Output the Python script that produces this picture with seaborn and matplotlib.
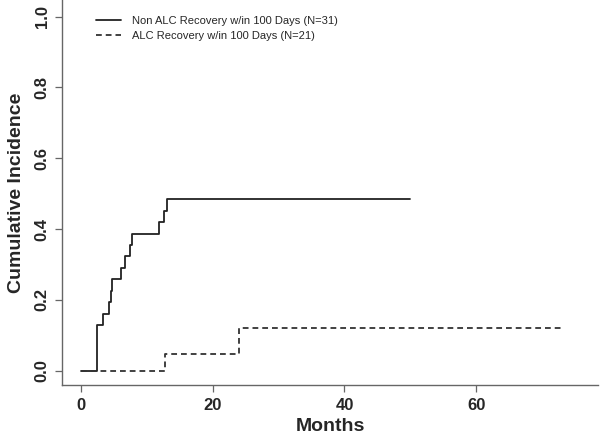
import matplotlib
matplotlib.use("Agg")
import matplotlib.pyplot as plt
import seaborn as sns
import pandas as pd

# Data
non_alc_months = [0, 2.4, 3.3, 4.25, 4.5, 4.75, 6.1, 6.6, 7.45, 7.7, 11.9, 12.65, 13.0, 50.0]
non_alc_ci = [0.0, 0.129, 0.161, 0.194, 0.226, 0.258, 0.290, 0.323, 0.355, 0.387,
              0.419, 0.452, 0.484, 0.484]
alc_months = [0, 12.75, 24.0, 73.0]
alc_ci = [0.0, 0.048, 0.122, 0.122]

labels = ["Non ALC Recovery w/in 100 Days (N=31)", "ALC Recovery w/in 100 Days (N=21)"]
x_ticks = [0, 20, 40, 60]
y_ticks = [0.0, 0.2, 0.4, 0.6, 0.8, 1.0]

df = pd.concat([
    pd.DataFrame({"Months": non_alc_months, "CI": non_alc_ci, "group": labels[0]}),
    pd.DataFrame({"Months": alc_months, "CI": alc_ci, "group": labels[1]}),
], ignore_index=True)

sns.set_style("white")
plt.rcParams["font.family"] = ["Liberation Sans", "DejaVu Sans"]

fig = plt.figure(figsize=(6, 4.4), dpi=100)
ax = fig.add_axes([62 / 600, 55 / 440, 536 / 600, 385 / 440])

sns.lineplot(data=df, x="Months", y="CI", style="group", hue="group",
             palette={labels[0]: "#222222", labels[1]: "#333333"},
             dashes={labels[0]: "", labels[1]: (3.2, 2.2)},
             drawstyle="steps-post", estimator=None, linewidth=1.3, ax=ax)

ax.set_xlim(-2.9, 78.5)
ax.set_ylim(-0.04, 1.047)
ax.set_xticks(x_ticks)
ax.set_xticklabels([str(t) for t in x_ticks], fontsize=12, fontweight="bold")
ax.set_yticks(y_ticks)
ax.set_yticklabels([f"{t:.1f}" for t in y_ticks], fontsize=12, fontweight="bold",
                   rotation=90, va="center")
ax.set_xlabel("Months", fontsize=14, fontweight="bold", labelpad=4)
ax.set_ylabel("Cumulative Incidence", fontsize=14, fontweight="bold", labelpad=7)

for side in ["top", "right"]:
    ax.spines[side].set_visible(False)
for side in ["left", "bottom"]:
    ax.spines[side].set_color("#666666")
    ax.spines[side].set_linewidth(1.0)
ax.tick_params(axis="both", direction="out", length=5, width=0.9, color="#666666",
               left=True, bottom=True, pad=4)

leg = ax.legend(loc="upper left", bbox_to_anchor=(0.045, 0.985), frameon=False,
                fontsize=8, handlelength=2.2, handletextpad=1.0, labelspacing=0.45)
for h in leg.get_lines():
    h.set_linewidth(1.3)

fig.savefig("out.png", dpi=100)
